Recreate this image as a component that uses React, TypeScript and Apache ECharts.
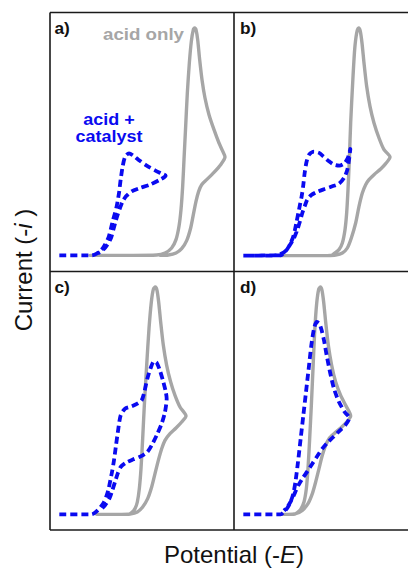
import React, { useEffect, useRef } from "react";
import * as echarts from "echarts";

// Potential (arbitrary units, 0..552 across a panel) vs current (arbitrary units, 0..774)
const panelLabels = ["a)", "b)", "c)", "d)"];
const xAxisTitle = "Potential (-E)";
const yAxisTitle = "Current (-i )";
const grayLegend = "acid only";
const blueLegend = ["acid +", "catalyst"];

// Panel a
const grayFwdA = [[120,47],[250,47],[320,48],[345,54],[365,69],[378,94],[387,134],[393,184],[398,254],[402,334],[407,434],[412,534],[418,624],[424,689],[430,724],[434,729],[438,724],[443,694],[449,634],[456,574],[465,519],[477,469],[492,424],[507,384],[517,362],[525,342]];
const grayRevA = [[512,319],[492,296],[470,274],[455,259],[446,239],[438,209],[430,169],[422,129],[410,91],[395,67],[378,54],[355,48],[330,47]];
const blueFwdA = [[28,47],[125,47],[140,52],[155,64],[165,79],[175,99],[182,124],[188,149],[195,174],[200,194],[207,234],[212,274],[218,314],[225,342],[237,353],[250,346],[265,334],[290,316],[315,302],[335,292],[347,286]];
const blueRevA = [[330,274],[300,259],[270,249],[245,239],[228,224],[218,209],[210,189],[203,169],[197,149],[190,124],[183,99],[172,79],[160,64],[145,54]];

// Panel b
const grayFwdB = [[140,46],[290,46],[300,52],[315,64],[325,84],[333,124],[338,174],[342,244],[346,334],[350,444],[356,564],[362,664],[368,714],[374,729],[379,719],[384,684],[390,624],[398,554],[408,494],[420,444],[435,399],[450,364],[468,342]];
const grayRevB = [[455,322],[440,306],[420,289],[405,274],[395,259],[385,234],[375,194],[365,144],[352,99],[340,69],[325,54],[305,48],[280,46]];
const blueFwdB = [[28,46],[140,47],[150,54],[160,66],[170,84],[178,104],[183,124],[188,149],[193,174],[198,199],[203,224],[208,259],[212,294],[218,329],[226,350],[240,358],[254,355],[268,344],[285,329],[300,319],[316,316],[330,322],[341,338],[349,366]];
const blueRevB = [[345,334],[340,304],[330,279],[315,262],[295,254],[272,246],[250,238],[232,228],[220,214],[212,194],[205,174],[198,149],[190,124],[180,99],[165,74],[150,56],[130,48],[28,46]];

// Panel c
const grayFwdC = [[140,47],[235,47],[245,52],[255,64],[262,84],[268,124],[273,184],[278,274],[283,374],[290,494],[297,604],[304,684],[310,722],[316,729],[321,719],[326,684],[332,624],[340,554],[350,494],[362,444],[375,404],[390,369],[408,342]];
const grayRevC = [[395,324],[378,306],[360,289],[345,269],[335,244],[325,209],[315,169],[305,129],[293,94],[278,69],[262,54],[240,48],[215,47]];
const blueFwdC = [[28,47],[125,47],[140,56],[152,69],[162,84],[170,104],[176,124],[181,149],[186,174],[192,209],[198,254],[205,304],[212,344],[225,364],[245,371],[262,379],[275,389],[283,414],[292,454],[302,486],[312,506],[320,502],[330,478],[340,444],[347,416],[350,394]];
const blueRevC = [[345,354],[335,319],[320,284],[305,254],[292,234],[272,221],[250,212],[228,202],[212,189],[203,169],[195,144],[187,119],[178,94],[165,74],[150,59]];

// Panel d
const grayFwdD = [[140,47],[180,47],[190,52],[200,62],[210,84],[217,124],[222,184],[227,274],[232,374],[237,484],[242,594],[248,679],[254,722],[259,729],[264,719],[269,684],[275,624],[283,554],[293,494],[305,444],[320,404],[335,374],[350,342]];
const grayRevD = [[338,324],[320,306],[300,289],[285,274],[275,254],[265,224],[255,184],[245,144],[235,109],[222,79],[205,59],[185,49],[160,47]];
const blueFwdD = [[28,47],[140,47],[150,54],[160,66],[168,81],[175,99],[180,119],[185,149],[192,204],[200,274],[208,344],[216,414],[224,484],[232,554],[240,604],[248,624],[256,619],[263,599],[270,569],[278,524],[288,474],[300,424],[315,384],[332,354],[346,336]];
const blueRevD = [[335,316],[318,299],[298,279],[280,262],[265,244],[250,222],[235,199],[220,176],[205,154],[193,134],[183,112],[172,89],[160,69],[150,58]];

const panels = [
  { gray: [...grayFwdA, ...grayRevA], blue: [...blueFwdA, ...blueRevA] },
  { gray: [...grayFwdB, ...grayRevB], blue: [...blueFwdB, ...blueRevB] },
  { gray: [...grayFwdC, ...grayRevC], blue: [...blueFwdC, ...blueRevC] },
  { gray: [...grayFwdD, ...grayRevD], blue: [...blueFwdD, ...blueRevD] },
];

const FONT = "'Liberation Sans', Arial, sans-serif";
const GRAY = "#a6a6a6";
const BLUE = "#0a0af0";

export default function App() {
  const ref = useRef<HTMLDivElement>(null);
  useEffect(() => {
    document.body.style.margin = "0";
    if (!ref.current) return;
    const chart = echarts.init(ref.current, null, { renderer: "svg" });
    const gridBoxes = [
      { left: 50, top: 13, width: 184, height: 258, xmax: 552 },
      { left: 234, top: 13, width: 174, height: 258, xmax: 522 },
      { left: 50, top: 272, width: 184, height: 258, xmax: 552 },
      { left: 234, top: 272, width: 174, height: 258, xmax: 522 },
    ];
    const labelPos = [
      [54.5, 29], [240, 29], [54.5, 288], [240, 288],
    ];
    const series: any[] = [];
    panels.forEach((p, i) => {
      series.push({
        type: "line", xAxisIndex: i, yAxisIndex: i, data: p.gray,
        showSymbol: false, smooth: 0.25, z: 2,
        lineStyle: { color: GRAY, width: 3.4, cap: "round", join: "round" },
      });
      series.push({
        type: "line", xAxisIndex: i, yAxisIndex: i, data: p.blue,
        showSymbol: false, smooth: 0.25, z: 3,
        lineStyle: { color: BLUE, width: 3.8, type: [7, 4], cap: "butt", join: "round" },
      });
    });
    const frame = [
      [50, 12.5, 408, 12.5],
      [50, 12.5, 50, 530],
      [234, 12.5, 234, 530],
      [50, 271.5, 408, 271.5],
      [50, 530, 408, 530],
    ];
    const graphic: any[] = [
      ...frame.map((f) => ({
        type: "line", shape: { x1: f[0], y1: f[1], x2: f[2], y2: f[3] },
        style: { stroke: "#1a1a1a", lineWidth: 1.6 }, z: 10,
      })),
      ...panelLabels.map((t, i) => ({
        type: "text", x: labelPos[i][0], y: labelPos[i][1], scaleX: 1.08, z: 11,
        style: { text: t, font: `bold 16px ${FONT}`, fill: "#111", textAlign: "left", textVerticalAlign: "middle" },
      })),
      {
        type: "text", x: 143.5, y: 34, scaleX: 1.1, z: 11,
        style: { text: grayLegend, font: `bold 17px ${FONT}`, fill: GRAY, textAlign: "center", textVerticalAlign: "middle" },
      },
      {
        type: "text", x: 109, y: 128, scaleX: 1.06, z: 11,
        style: { text: blueLegend.join("\n"), font: `bold 17px ${FONT}`, fill: BLUE, textAlign: "center", textVerticalAlign: "middle", lineHeight: 17 },
      },
      {
        type: "text", x: 234, y: 554, z: 11,
        style: {
          text: "{n|Potential (-}{it|E}{n|)}",
          rich: {
            n: { fontSize: 24, fontFamily: FONT, fill: "#111" },
            it: { fontSize: 24, fontFamily: FONT, fontStyle: "italic", fill: "#111" },
          },
          textAlign: "center", textVerticalAlign: "middle",
        },
      },
      {
        type: "text", x: 23, y: 270, rotation: Math.PI / 2, z: 11,
        style: {
          text: "{n|Current (-}{it|i}{n| )}",
          rich: {
            n: { fontSize: 24, fontFamily: FONT, fill: "#111" },
            it: { fontSize: 24, fontFamily: FONT, fontStyle: "italic", fill: "#111" },
          },
          textAlign: "center", textVerticalAlign: "middle",
        },
      },
    ];
    chart.setOption({
      animation: false,
      grid: gridBoxes.map((g) => ({ left: g.left, top: g.top, width: g.width, height: g.height, show: false })),
      xAxis: gridBoxes.map((g, i) => ({ type: "value", gridIndex: i, min: 0, max: g.xmax, show: false })),
      yAxis: gridBoxes.map((g, i) => ({ type: "value", gridIndex: i, min: 0, max: 774, show: false })),
      series,
      graphic,
    });
    return () => chart.dispose();
  }, []);
  return <div ref={ref} style={{ width: 408, height: 568 }} />;
}
